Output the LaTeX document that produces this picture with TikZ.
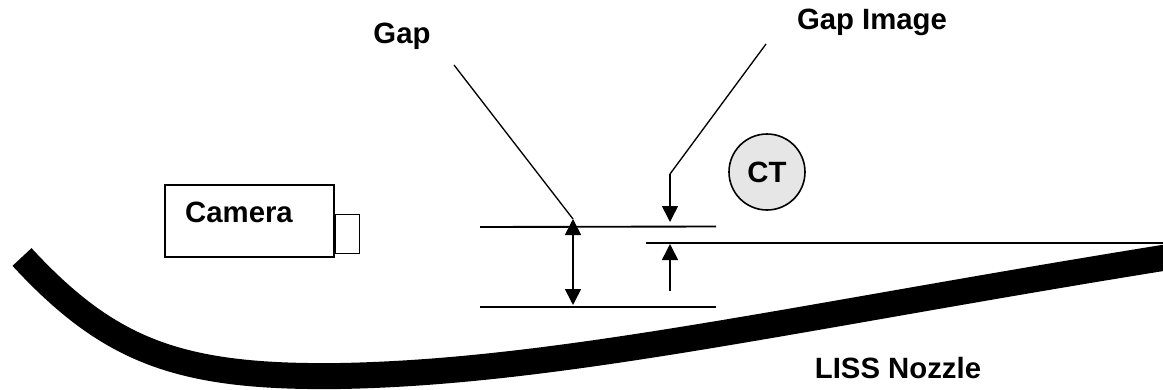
\documentclass[tikz,border=0pt]{standalone}
\usepackage{fontspec}
\setmainfont{Liberation Sans}
\usepackage{xcolor}
\usetikzlibrary{arrows.meta,positioning}
\definecolor{softgray}{HTML}{E6E6E6}
\tikzset{
  labeltext/.style={font=\fontsize{22}{26}\selectfont\bfseries, inner sep=0pt, text=black},
  camerabox/.style={draw=black, line width=1.3pt, fill=white, minimum width=126.75pt, minimum height=54pt, inner sep=0pt},
  lensbox/.style={draw=black, line width=1pt, fill=white, minimum width=18pt, minimum height=29.25pt, inner sep=0pt},
  ctcircle/.style={draw=black, circle, line width=1.2pt, fill=softgray, minimum size=57pt, inner sep=0pt, labeltext},
  gapline/.style={draw=black, line width=1.4pt},
  leader/.style={draw=black, line width=1pt},
  arrow/.style={-{Triangle[length=12pt,width=12pt]}, line width=1.2pt, draw=black},
  doublearrow/.style={{Triangle[length=12pt,width=12pt]}-{Triangle[length=12pt,width=12pt]}, line width=1.2pt, draw=black},
  nozzle/.style={draw=black, line width=19.5pt}
}
\begin{document}
\begin{tikzpicture}[x=0.75pt, y=-0.75pt]
  \clip (0,0) rectangle (1163,389);
  \node[camerabox] (camera) at (249.5,221) {};
  \node[lensbox, anchor=south west, yshift=3pt] (lens) at (camera.south east) {};
  \node[labeltext] (cameralabel) at (239,212) {Camera};
  \node[ctcircle] (ct) at (767,172) {CT};
  \node[labeltext] (gaplabel) at (402,36) {Gap};
  \node[labeltext] (gapimagelabel) at (872,22) {Gap Image};
  \node[labeltext] (nozzlelabel) at (898,368) {LISS Nozzle};

  \coordinate (gaptopleft) at (480,227);
  \coordinate (gaptopright) at (716,226.5);
  \coordinate (gapbotleft) at (480,307);
  \coordinate (gapbotright) at (716,307);
  \coordinate (imageleft) at (646,243);
  \coordinate (imageright) at (1163,243);
  \coordinate (gaptip) at (573,219);
  \coordinate (gapbottip) at (573,305);
  \coordinate (gapstart) at (454,65);
  \coordinate (imagestart) at (766,44);
  \coordinate (imagebend) at (670,174);
  \coordinate (imagetip) at (670,222);
  \coordinate (uptail) at (670,291);
  \coordinate (uptip) at (670,244);
  \coordinate (nozzleleft) at (22,257);
  \coordinate (nozzlemid) at (340,376);
  \coordinate (nozzleright) at (1175,256);

  \draw[gapline] (gaptopleft) -- (gaptopright);
  \draw[gapline] (gapbotleft) -- (gapbotright);
  \draw[gapline, line width=2pt] (imageleft) -- (imageright);
  \draw[doublearrow] (gaptip) -- (gapbottip);
  \draw[leader] (gapstart) -- (gaptip);
  \draw[leader] (imagestart) -- (imagebend);
  \draw[arrow] (imagebend) -- (imagetip);
  \draw[arrow] (uptail) -- (uptip);
  \draw[nozzle] (nozzleleft) .. controls (110,352) and (180,378) .. (nozzlemid)
    .. controls (560,372) and (800,316) .. (nozzleright);
\end{tikzpicture}
\end{document}
